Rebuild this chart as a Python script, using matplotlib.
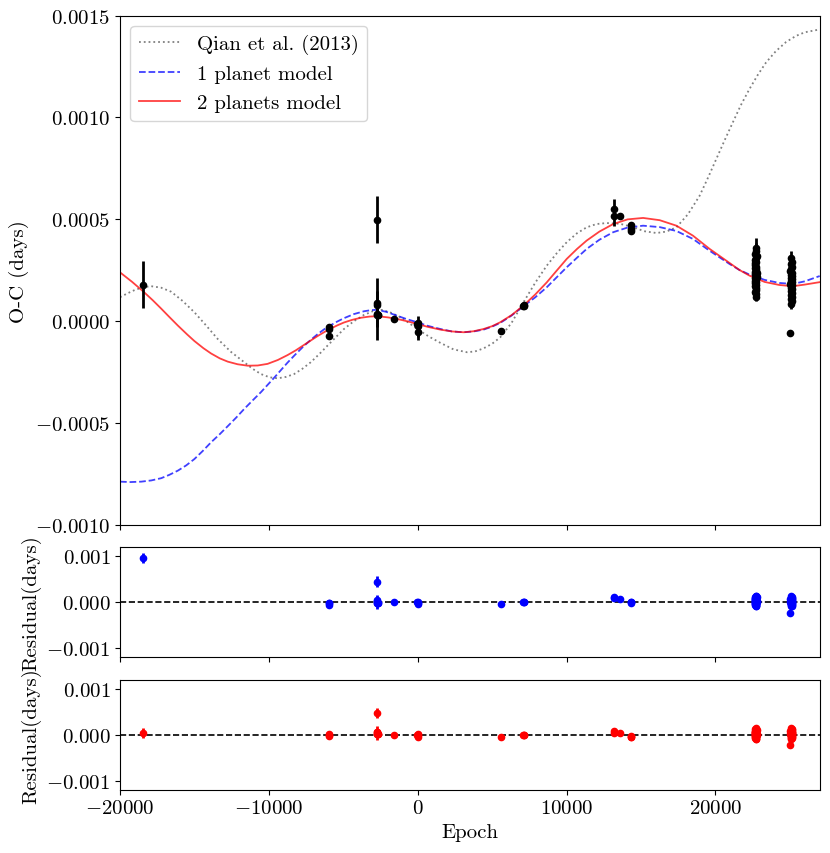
import matplotlib
matplotlib.use("Agg")
import matplotlib.pyplot as plt
import numpy as np

plt.rcParams['font.family'] = 'serif'
plt.rcParams['font.serif'] = ['cmr10']
plt.rcParams['mathtext.fontset'] = 'cm'
plt.rcParams['axes.formatter.use_mathtext'] = True
plt.rcParams['axes.unicode_minus'] = True

# ---- model curves (epoch, O-C in days)
qian_epoch = [-20000, -19500, -19022, -18450, -17904, -17250, -16564, -15800, -15003, -14200,
              -13436, -12550, -11655, -11100, -10536, -9950, -9418, -8850, -8306, -7750,
              -7187, -6600, -6068, -5500, -4957, -4300, -3617, -3000, -2400, -1800,
              -1159, -600, -40, 750, 1520, 2400, 3309, 3850, 4421, 5000,
              5539, 6300, 7100, 7900, 8667, 9350, 10007, 10700, 11347, 12000,
              12686, 13600, 14468, 15200, 16035, 16700, 17374, 18150, 18934, 19500,
              20052, 20600, 21165, 21700, 22284, 22850, 23397, 24050, 24737, 25400,
              26000, 27000]
qian_oc = [0.000118, 0.000137, 0.000153, 0.000167, 0.000172, 0.000165, 0.000145, 0.000100, 0.000044, -0.000022,
           -0.000087, -0.000150, -0.000201, -0.000233, -0.000259, -0.000275, -0.000280, -0.000273, -0.000259, -0.000233,
           -0.000201, -0.000160, -0.000120, -0.000078, -0.000038, 0.000000, 0.000031, 0.000050, 0.000056, 0.000042,
           0.000020, -0.000008, -0.000038, -0.000075, -0.000106, -0.000138, -0.000152, -0.000148, -0.000133, -0.000110,
           -0.000079, -0.000008, 0.000093, 0.000190, 0.000273, 0.000335, 0.000388, 0.000432, 0.000461, 0.000477,
           0.000482, 0.000478, 0.000462, 0.000442, 0.000433, 0.000440, 0.000461, 0.000525, 0.000616, 0.000705,
           0.000796, 0.000886, 0.000976, 0.001060, 0.001140, 0.001210, 0.001270, 0.001325, 0.001370, 0.001400,
           0.001418, 0.001432]

one_epoch = [-20000, -19300, -18573, -17900, -17234, -16700, -16116, -15550, -15003, -14450,
             -13885, -13300, -12767, -12200, -11655, -11100, -10536, -9645, -8748, -8250,
             -7743, -7200, -6738, -6300, -5961, -5400, -4957, -4300, -3617, -3100,
             -2719, -2100, -1500, -800, -40, 700, 1520, 2300, 3081, 3750,
             4421, 5000, 5539, 6300, 7100, 7900, 8667, 9350, 10007, 10700,
             11347, 12200, 13128, 14100, 15137, 16250, 17374, 18487, 19605, 20945,
             21600, 22284, 23300, 24294, 25185, 26000, 27000]
one_oc = [-0.000787, -0.000789, -0.000787, -0.000781, -0.000770, -0.000754, -0.000733, -0.000707, -0.000676, -0.000637,
          -0.000594, -0.000554, -0.000515, -0.000473, -0.000430, -0.000389, -0.000348, -0.000277, -0.000203, -0.000165,
          -0.000128, -0.000092, -0.000064, -0.000040, -0.000024, -0.000001, 0.000015, 0.000035, 0.000049, 0.000055,
          0.000056, 0.000046, 0.000030, 0.000012, -0.000005, -0.000023, -0.000038, -0.000050, -0.000054, -0.000050,
          -0.000041, -0.000026, -0.000008, 0.000028, 0.000074, 0.000118, 0.000167, 0.000217, 0.000265, 0.000312,
          0.000355, 0.000400, 0.000437, 0.000460, 0.000469, 0.000462, 0.000443, 0.000404, 0.000346, 0.000281,
          0.000252, 0.000229, 0.000203, 0.000188, 0.000183, 0.000196, 0.000222]

two_epoch = [-20000, -19200, -18420, -17800, -17234, -16700, -16116, -15500, -15003, -14400,
             -13885, -13300, -12767, -12100, -11427, -10750, -10087, -9400, -8748, -8200,
             -7743, -7200, -6738, -6300, -5961, -5400, -4957, -4400, -3838, -3250,
             -2719, -2000, -1300, -600, -40, 700, 1520, 2300, 3081, 3750,
             4421, 5000, 5539, 6300, 7100, 7900, 8667, 9350, 10007, 10700,
             11347, 12200, 13128, 14100, 15137, 16250, 17374, 18487, 19605, 20945,
             21600, 22284, 23300, 24294, 25185, 26000, 27000]
two_oc = [0.000240, 0.000194, 0.000145, 0.000103, 0.000062, 0.000022, -0.000021, -0.000064, -0.000097, -0.000132,
          -0.000158, -0.000182, -0.000198, -0.000211, -0.000218, -0.000217, -0.000209, -0.000190, -0.000166, -0.000143,
          -0.000121, -0.000095, -0.000073, -0.000054, -0.000040, -0.000020, -0.000006, 0.000007, 0.000017, 0.000023,
          0.000025, 0.000019, 0.000010, -0.000002, -0.000013, -0.000028, -0.000041, -0.000050, -0.000054, -0.000049,
          -0.000038, -0.000024, -0.000005, 0.000030, 0.000077, 0.000132, 0.000191, 0.000250, 0.000306, 0.000355,
          0.000396, 0.000440, 0.000477, 0.000500, 0.000507, 0.000496, 0.000469, 0.000420, 0.000355, 0.000286,
          0.000252, 0.000224, 0.000193, 0.000178, 0.000172, 0.000180, 0.000192]

# ---- observed minima (epoch, O-C, error) and model values at those epochs
obs_epoch = [-18440, -5930, -5930, -5930, -2770, -2770, -2770, -2770, -2770, -2700,
             -2640, -1580, 0, 0, 0, -80, 5606, 7147, 7147, 7100,
             13161, 13161, 13563, 14347, 14347, 14347]
obs_oc = [0.000180, -0.000029, -0.000071, -0.000036, 0.000499, 0.000090, 0.000082, 0.000036, 0.000030, 0.000032,
          0.000030, 0.000011, -0.000025, -0.000054, -0.000008, -0.000015, -0.000046, 0.000080, 0.000074, 0.000077,
          0.000551, 0.000518, 0.000518, 0.000470, 0.000455, 0.000445]
obs_err = [0.000115, 0.000008, 0.000008, 0.000010, 0.000115, 0.000120, 0.000020, 0.000020, 0.000120, 0.000010,
           0.000010, 0.000005, 0.000050, 0.000040, 0.000010, 0.000010, 0.000005, 0.000010, 0.000010, 0.000005,
           0.000050, 0.000050, 0.000010, 0.000010, 0.000010, 0.000010]
obs_one = [-0.000785, -0.000012, -0.000012, -0.000012, 0.000055, 0.000055, 0.000055, 0.000055, 0.000055, 0.000055,
           0.000055, 0.000020, -0.000006, -0.000006, -0.000006, -0.000005, -0.000006, 0.000077, 0.000077, 0.000074,
           0.000438, 0.000438, 0.000448, 0.000465, 0.000465, 0.000465]
obs_two = [0.000142, -0.000037, -0.000037, -0.000037, 0.000025, 0.000025, 0.000025, 0.000025, 0.000025, 0.000025,
           0.000025, 0.000008, -0.000014, -0.000014, -0.000014, -0.000013, -0.000003, 0.000080, 0.000080, 0.000077,
           0.000478, 0.000478, 0.000490, 0.000505, 0.000505, 0.000505]

# dense group near epoch 22700
grp1_epoch = [22690, 22720, 22650, 22760, 22700, 22640, 22740, 22670, 22630, 22750,
              22660, 22730, 22690, 22640, 22765, 22650, 22710, 22755, 22635, 22745,
              22660, 22720, 22680, 22750, 22640, 22690, 22730, 22660, 22700, 22715]
grp1_oc = [0.000358, 0.000344, 0.000331, 0.000322, 0.000310, 0.000301, 0.000292, 0.000284, 0.000277, 0.000268,
           0.000262, 0.000255, 0.000249, 0.000243, 0.000236, 0.000231, 0.000225, 0.000219, 0.000213, 0.000206,
           0.000200, 0.000194, 0.000187, 0.000180, 0.000172, 0.000164, 0.000154, 0.000143, 0.000132, 0.000121]
grp1_err = [0.000050, 0.000040, 0.000030, 0.000025, 0.000030, 0.000020, 0.000025, 0.000030, 0.000020, 0.000025,
            0.000020, 0.000030, 0.000025, 0.000020, 0.000030, 0.000025, 0.000020, 0.000030, 0.000025, 0.000020,
            0.000030, 0.000025, 0.000020, 0.000030, 0.000025, 0.000020, 0.000025, 0.000030, 0.000025, 0.000020]
grp1_one = 0.000220
grp1_two = 0.000216

# dense group near epoch 25100
grp2_epoch = [25090, 25130, 25050, 25150, 25080, 25030, 25140, 25060, 25110, 25040,
              25150, 25070, 25120, 25035, 25145, 25060, 25100, 25135, 25045, 25125,
              25065, 25110, 25040, 25140, 25085, 24985]
grp2_oc = [0.000310, 0.000292, 0.000280, 0.000268, 0.000257, 0.000247, 0.000238, 0.000229, 0.000221, 0.000213,
           0.000206, 0.000199, 0.000192, 0.000185, 0.000178, 0.000171, 0.000164, 0.000156, 0.000148, 0.000139,
           0.000130, 0.000120, 0.000110, 0.000099, 0.000085, -0.000059]
grp2_err = [0.000036, 0.000030, 0.000025, 0.000020, 0.000025, 0.000020, 0.000025, 0.000030, 0.000020, 0.000025,
            0.000020, 0.000030, 0.000025, 0.000020, 0.000030, 0.000025, 0.000020, 0.000030, 0.000025, 0.000020,
            0.000030, 0.000025, 0.000020, 0.000030, 0.000025, 0.000012]
grp2_one = 0.000183
grp2_two = 0.000172

epoch = np.array(obs_epoch + grp1_epoch + grp2_epoch, dtype=float)
oc = np.array(obs_oc + grp1_oc + grp2_oc)
err = np.array(obs_err + grp1_err + grp2_err)
mod_one = np.array(obs_one + [grp1_one] * len(grp1_oc) + [grp2_one] * len(grp2_oc))
mod_two = np.array(obs_two + [grp1_two] * len(grp1_oc) + [grp2_two] * len(grp2_oc))
res_one = oc - mod_one
res_two = oc - mod_two

fig = plt.figure(figsize=(8.3, 8.54), dpi=100)
ax = fig.add_axes([0.1446, 0.384, 0.8430, 0.5966])
ax1 = fig.add_axes([0.1446, 0.2299, 0.8430, 0.1281], sharex=ax)
ax2 = fig.add_axes([0.1446, 0.0741, 0.8430, 0.1288], sharex=ax)

ax.plot(qian_epoch, qian_oc, ':', color='gray', lw=1.3, label='Qian et al. (2013)')
ax.plot(one_epoch, one_oc, 'b--', lw=1.3, alpha=0.75, label='1 planet model')
ax.plot(two_epoch, two_oc, 'r-', lw=1.3, alpha=0.75, label='2 planets model')
ax.errorbar(epoch, oc, yerr=err, fmt='o', color='k', ms=4.5, elinewidth=2, capsize=0)
ax.set_xlim(-20000, 27000)
ax.set_ylim(-0.0010, 0.0015)
ax.set_yticks([-0.0010, -0.0005, 0.0, 0.0005, 0.0010, 0.0015])
ax.set_ylabel('O-C (days)', fontsize=15)
ax.legend(loc='upper left', fontsize=15)
ax.tick_params(labelbottom=False, labelsize=15)

ax1.errorbar(epoch, res_one, yerr=err, fmt='o', color='b', ms=4.5, elinewidth=2, capsize=0)
ax1.axhline(0, color='k', ls='--', lw=1.2)
ax1.set_ylim(-0.0012, 0.0012)
ax1.set_yticks([-0.001, 0.0, 0.001])
ax1.set_ylabel('Residual(days)', fontsize=15)
ax1.tick_params(labelbottom=False, labelsize=15)

ax2.errorbar(epoch, res_two, yerr=err, fmt='o', color='r', ms=4.5, elinewidth=2, capsize=0)
ax2.axhline(0, color='k', ls='--', lw=1.2)
ax2.set_ylim(-0.0012, 0.0012)
ax2.set_yticks([-0.001, 0.0, 0.001])
ax2.set_ylabel('Residual(days)', fontsize=15)
ax2.set_xlabel('Epoch', fontsize=15)
ax2.set_xticks([-20000, -10000, 0, 10000, 20000])
ax2.tick_params(labelsize=15)

fig.savefig('out.png', dpi=100)
